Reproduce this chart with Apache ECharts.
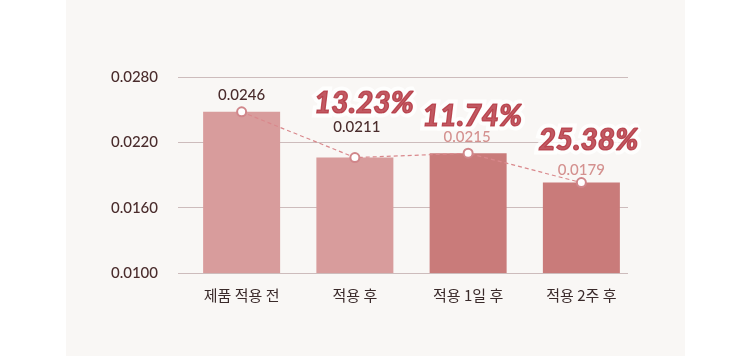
<!DOCTYPE html>
<html><head><meta charset="utf-8">
<script src="https://cdn.jsdelivr.net/npm/echarts@6/dist/echarts.min.js"></script>
<style>html,body{margin:0;padding:0;background:#fff}#c{width:750px;height:356px}</style>
</head><body><div id="c"></div>
<script>
var categories = ['제품 적용 전', '적용 후', '적용 1일 후', '적용 2주 후'];
var values = [0.0248, 0.0206, 0.0210, 0.0183];
var valueLabels = ['0.0246', '0.0211', '0.0215', '0.0179'];
var percentLabels = ['', '13.23%', '11.74%', '25.38%'];
var axisMin = 0.0100, axisMax = 0.0280, axisStep = 0.0060;

var barColors = ['#d89c9c', '#d89c9c', '#c97b7a', '#c97b7a'];
var valueLabelColors = ['#4a2c2c', '#4a2c2c', '#d4918f', '#d4918f'];
var valueOffsets = [[0, -17], [2, -30], [-1, -16], [0, -12]];
var pctOffsets = [[0, 0], [9, -54], [4, -37], [7, -42]];

var rel = values.map(function (v) { return +(v - axisMin).toFixed(6); });
var span = +(axisMax - axisMin).toFixed(6);

function pctSeries(halo) {
  return { type: 'scatter', xAxisIndex: 1, yAxisIndex: 1, symbolSize: 1, itemStyle: { color: 'rgba(0,0,0,0)' },
    silent: true, z: halo ? 5 : 6,
    data: rel.map(function (v, i) {
      var lab = { show: percentLabels[i] !== '', position: 'inside', offset: pctOffsets[i],
        formatter: percentLabels[i], color: halo ? '#ffffff' : '#b2303b', fontFamily: 'Lato', fontSize: 30,
        fontWeight: 900, fontStyle: 'italic',
        textBorderColor: halo ? '#ffffff' : '#b2303b', textBorderWidth: halo ? 9 : 1.2 };
      return { value: v, label: lab };
    }) };
}

var chart = echarts.init(document.getElementById('c'));
var yBase = { type: 'value', min: 0, max: span, interval: axisStep };
chart.setOption({
  animation: false,
  backgroundColor: '#ffffff',
  graphic: [{ type: 'rect', left: 66, top: 0, shape: { width: 619, height: 356 }, style: { fill: '#f9f7f5' }, z: -10 }],
  grid: [
    { left: 178, right: 122, top: 77, bottom: 83 },
    { left: 185, right: 112, top: 77, bottom: 83 }
  ],
  xAxis: [
    { type: 'category', gridIndex: 0, data: categories, show: false },
    { type: 'category', gridIndex: 1, data: categories,
      axisLine: { show: false }, axisTick: { show: false },
      axisLabel: { margin: 15, fontFamily: 'Noto Sans CJK KR', fontSize: 15, color: '#3a2a2a' } }
  ],
  yAxis: [
    Object.assign({ gridIndex: 0 }, yBase, {
      axisLine: { show: false }, axisTick: { show: false },
      splitLine: { lineStyle: { color: '#cdbcbc', width: 1 } },
      axisLabel: { margin: 20, fontFamily: 'Lato', fontSize: 15, fontWeight: 500, color: '#4a2c2c',
        formatter: function (v) { return (v + axisMin).toFixed(4); } }
    }),
    Object.assign({ gridIndex: 1 }, yBase, { show: false, splitLine: { show: false } })
  ],
  series: [
    { type: 'bar', xAxisIndex: 1, yAxisIndex: 1, barWidth: 77,
      data: rel.map(function (v, i) { return { value: v, itemStyle: { color: barColors[i] } }; }) },
    { type: 'line', xAxisIndex: 1, yAxisIndex: 1, symbol: 'circle', symbolSize: 9,
      lineStyle: { color: '#d9888c', width: 1.2, type: [4, 3] },
      itemStyle: { color: '#ffffff', borderColor: '#d0868a', borderWidth: 2 },
      data: rel.map(function (v, i) {
        return { value: v, label: { show: true, position: 'inside', offset: valueOffsets[i],
          formatter: valueLabels[i], color: valueLabelColors[i], fontFamily: 'Lato', fontSize: 15, fontWeight: 500 } };
      }), z: 3 },
    pctSeries(true),
    pctSeries(false)
  ]
});
</script></body></html>
